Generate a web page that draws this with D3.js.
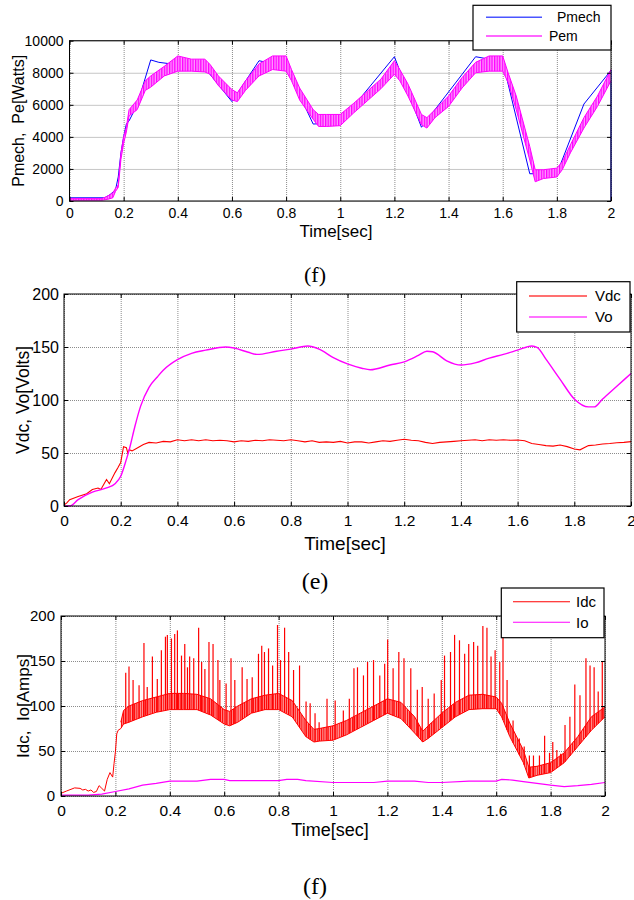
<!DOCTYPE html>
<html><head><meta charset="utf-8">
<script src="https://cdn.jsdelivr.net/npm/d3@7"></script>
<style>
html,body{margin:0;padding:0;background:#fff;}
svg{display:block;}
</style></head><body>
<svg id="c" width="634" height="900"></svg>
<script>
// ---------- shared ticks ----------
const xTicks = [0,0.2,0.4,0.6,0.8,1,1.2,1.4,1.6,1.8,2];
const xTickLabels = ["0","0.2","0.4","0.6","0.8","1","1.2","1.4","1.6","1.8","2"];
const xLabel = "Time[sec]";

// ---------- panel 1 : Pmech / Pem ----------
const p1Ticks = [0,2000,4000,6000,8000,10000];
const p1TickLabels = ["0","2000","4000","6000","8000","10000"];
const pmechT = [0,0.13,0.15,0.17,0.18,0.19,0.2,0.21,0.22,0.25,0.3,0.33,0.4,0.5,0.6,0.7,0.8,0.9,1.0,1.2,1.3,1.5,1.6,1.7,1.8,1.9,2.0,2.0];
const pmechV = [200,200,400,700,1500,3000,4000,4800,5000,6000,8800,8650,8500,8300,6200,8750,8400,4800,4900,9000,4600,9000,8700,1700,1700,6050,8150,0];
const pemT = [0,0.12,0.14,0.16,0.17,0.18,0.19,0.2,0.21,0.22,0.25,0.28,0.3,0.35,0.4,0.45,0.5,0.52,0.55,0.6,0.62,0.65,0.7,0.75,0.8,0.82,0.85,0.9,0.92,0.95,1.0,1.05,1.1,1.15,1.2,1.22,1.25,1.3,1.32,1.35,1.4,1.45,1.5,1.55,1.6,1.62,1.65,1.7,1.72,1.75,1.8,1.82,1.85,1.9,1.95,2.0];
const pemLow = [50,50,100,200,600,850,2600,3600,4300,5300,5700,6900,7100,7800,8100,8100,8050,7900,7200,6300,6200,6900,7800,8200,8100,7500,6300,5100,4650,4650,4700,5500,6250,7000,7900,7500,6550,4750,4550,5200,5900,7050,8000,8100,8100,7400,5700,2550,1200,1400,1500,1950,3000,4550,5900,7500];
const pemHigh = [150,150,300,500,800,1000,3000,4000,4600,5700,6300,7500,7800,8400,9050,8850,8850,8500,7800,6950,6750,7500,8550,9050,9050,8200,7050,5700,5400,5400,5400,6100,6850,7600,8750,8200,7300,5400,5200,5700,6550,7700,8650,9050,9050,8000,6550,3400,1950,1950,2050,2450,3500,5200,6550,8200];

// ---------- panel 2 : Vdc / Vo ----------
const p2Ticks = [0,50,100,150,200];
const p2TickLabels = ["0","50","100","150","200"];
const voT = [0,0.02,0.05,0.1,0.15,0.18,0.2,0.22,0.23,0.25,0.27,0.3,0.33,0.35,0.4,0.45,0.5,0.57,0.6,0.65,0.68,0.75,0.8,0.86,0.9,0.95,1.0,1.05,1.08,1.15,1.2,1.25,1.28,1.3,1.35,1.4,1.45,1.5,1.55,1.6,1.65,1.67,1.7,1.75,1.8,1.85,1.87,1.9,1.95,2.0];
const voV = [0,0,6,13,17,21,28,44,53,75,94,112,122,128,138,144,147,150,149,145,143,146,148,151,148,140,134,130,128.5,133,136,142,146,145.5,137,133,135,139.5,143,147,151,149.5,138.5,119.5,101,93.5,93.5,101,113,125];
const vdcT = [0,0.01,0.02,0.05,0.08,0.1,0.12,0.13,0.15,0.16,0.18,0.19,0.2,0.21,0.22,0.225,0.23,0.24,0.26,0.28,0.3,0.325,0.35,0.375,0.4,0.425,0.45,0.475,0.5,0.525,0.55,0.575,0.6,0.625,0.65,0.675,0.7,0.725,0.75,0.775,0.8,0.825,0.85,0.875,0.9,0.925,0.95,0.975,1.0,1.025,1.05,1.075,1.1,1.125,1.15,1.175,1.2,1.225,1.25,1.275,1.3,1.325,1.35,1.375,1.4,1.425,1.45,1.475,1.5,1.525,1.55,1.575,1.6,1.625,1.65,1.675,1.7,1.725,1.75,1.775,1.8,1.82,1.85,1.875,1.9,1.925,1.95,1.975,2.0];
const vdcV = [1,3,6,9,11.5,15.5,17,15.5,25,21,31.5,36,41,56,55,50,53,52,55,58,60,59.5,61,60.5,62.5,61.5,62.5,61.5,62.5,61.5,62,61.5,60.5,61.5,61,62,61.5,62.5,62,61.5,62.5,61.5,60.5,61.5,60,60.5,60,61,59.5,60.5,60.5,59.5,60.5,61.5,61,62,63,62,61.5,60,59,60,60.5,61,61.5,62,62.5,61.5,62.5,62,62.5,62,62.3,61.5,59,58,57,56.5,57.5,56,53.8,53,57,57.5,58.5,59,59.7,60,60.7];

// ---------- panel 3 : Idc / Io ----------
const p3Ticks = [0,50,100,150,200];
const p3TickLabels = ["0","50","100","150","200"];
const idcT = [0,0.02,0.05,0.07,0.08,0.09,0.1,0.11,0.12,0.13,0.14,0.15,0.16,0.17,0.18,0.19,0.195,0.2,0.205,0.21,0.22];
const idcV = [3,5.5,9,8.5,6.7,7.4,5.5,6.7,4,5,11.5,8.5,5.5,18.5,26,21,36,49,69,73,75];
const idcBandT = [0.22,0.23,0.25,0.3,0.35,0.4,0.45,0.5,0.55,0.6,0.62,0.65,0.7,0.75,0.8,0.85,0.9,0.93,0.95,1.0,1.05,1.1,1.15,1.2,1.25,1.3,1.33,1.35,1.4,1.45,1.5,1.55,1.6,1.62,1.65,1.7,1.72,1.75,1.8,1.85,1.9,1.95,2.0];
const idcBandLow = [75,80,82,88,93,96,96,96,90,80,78,82,92,96,96,88,66,60,61,62,68,76,84,92,86,70,60,64,76,88,96,97,97,88,66,37,20,23,26,37,55,73,88];
const idcBandHigh = [82,95,100,106,110,114,114,113,108,96,94,100,108,112,114,106,84,74,75,78,84,92,100,108,104,88,72,78,92,104,112,113,110,103,81,51,32,33,37,48,66,88,99];
const idcSpikeT = [0.238,0.25,0.265,0.287,0.305,0.317,0.336,0.354,0.369,0.384,0.391,0.406,0.418,0.428,0.443,0.455,0.465,0.473,0.488,0.506,0.517,0.529,0.544,0.559,0.577,0.584,0.607,0.625,0.639,0.666,0.684,0.703,0.726,0.738,0.748,0.763,0.778,0.796,0.807,0.822,0.837,0.855,0.877,0.901,0.916,0.934,0.949,0.978,1.008,1.038,1.06,1.077,1.09,1.112,1.127,1.149,1.172,1.19,1.201,1.221,1.242,1.261,1.286,1.31,1.328,1.35,1.372,1.398,1.41,1.432,1.447,1.465,1.484,1.499,1.517,1.532,1.551,1.566,1.581,1.596,1.613,1.625,1.64,1.662,1.685,1.703,1.722,1.737,1.759,1.778,1.796,1.808,1.823,1.837,1.853,1.871,1.889,1.908,1.93,1.945,1.96,1.975,1.99];
const idcSpikeV = [137,144,129,123,170,121,155,130,162,177,179,175,180,184,156,169,143,155,153,187,149,141,171,169,151,129,125,153,129,143,130,132,158,167,160,164,145,190,151,187,160,140,145,105,103,92,82,108,106,95,108,142,143,134,149,151,134,147,174,142,160,153,142,118,121,108,114,129,156,160,179,173,158,169,171,167,189,187,155,162,149,177,129,84,64,55,45,45,45,67,48,60,51,47,79,88,124,112,153,145,143,116,150];
const ioT = [0,0.1,0.15,0.2,0.25,0.3,0.35,0.4,0.5,0.55,0.6,0.62,0.7,0.8,0.83,0.87,0.9,1.0,1.1,1.15,1.2,1.3,1.35,1.4,1.5,1.6,1.62,1.66,1.7,1.75,1.8,1.85,1.9,1.95,2.0];
const ioV = [1,1,2,5,8,12,14,16.6,16.6,18.5,18.5,17,17,17,18.5,18.5,17,15,15,15,16.6,16.6,15,15,16.6,16.6,18.5,17.7,16,14,12,10.4,11.5,13,15];

// ---------- drawing ----------
const FONT = '"Liberation Sans",Arial,Helvetica,sans-serif';
const SERIF = '"Liberation Serif","Times New Roman",Times,serif';
const svg = d3.select("#c");
svg.append("rect").attr("width",634).attr("height",900).attr("fill","#fff");
const defs = svg.append("defs");
function hatch(id, bg, fg, w, fw) {
  const p = defs.append("pattern").attr("id", id).attr("patternUnits","userSpaceOnUse")
    .attr("width", w).attr("height", 8);
  p.append("rect").attr("width", w).attr("height", 8).attr("fill", bg);
  p.append("rect").attr("width", fw).attr("height", 8).attr("fill", fg);
}
hatch("pemHatch", "#ff99ff", "#ff00ff", 2.6, 1.3);
hatch("idcHatch", "#ff9a9a", "#ff0000", 2.2, 1.0);

let clipN = 0;

function panel(cfg) {
  const g = svg.append("g");
  const x = d3.scaleLinear().domain([0,2]).range([cfg.l, cfg.r]);
  const y = d3.scaleLinear().domain(cfg.yDom).range([cfg.b, cfg.t]);
  const H = cfg.b - cfg.t, W = cfg.r - cfg.l;
  // grid
  g.append("g").attr("transform", `translate(0,${cfg.b})`)
    .call(d3.axisBottom(x).tickValues(xTicks).tickSize(-H).tickFormat(""))
    .call(s => { s.select(".domain").remove();
      s.selectAll("line").attr("stroke","#8c8c8c").attr("stroke-dasharray","1,1"); });
  g.append("g").attr("transform", `translate(${cfg.l},0)`)
    .call(d3.axisLeft(y).tickValues(cfg.yTicks).tickSize(-W).tickFormat(""))
    .call(s => { s.select(".domain").remove();
      s.selectAll("line").attr("stroke","#8c8c8c").attr("stroke-dasharray","1,1"); });
  // clip
  const cid = "clip" + (clipN++);
  defs.append("clipPath").attr("id", cid).append("rect")
    .attr("x", cfg.l).attr("y", cfg.t - 1).attr("width", W + 1).attr("height", H + 2);
  const plot = g.append("g").attr("clip-path", `url(#${cid})`);
  cfg.draw(plot, x, y);
  // box
  g.append("rect").attr("x", cfg.l).attr("y", cfg.t).attr("width", W).attr("height", H)
    .attr("fill","none").attr("stroke","#000").attr("stroke-width",1);
  const styleAxis = (s, fs) => {
    s.select(".domain").remove();
    s.selectAll("line").attr("stroke","#000");
    s.selectAll("text").attr("fill","#000").style("font-family", FONT).style("font-size", fs + "px");
  };
  g.append("g").attr("transform", `translate(0,${cfg.b})`)
    .call(d3.axisBottom(x).tickValues(xTicks).tickFormat((d,i) => xTickLabels[i])
      .tickSizeInner(-4).tickSizeOuter(0).tickPadding(cfg.xPad))
    .call(s => styleAxis(s, cfg.xFs));
  g.append("g").attr("transform", `translate(0,${cfg.t})`)
    .call(d3.axisTop(x).tickValues(xTicks).tickFormat("").tickSizeInner(-4).tickSizeOuter(0))
    .call(s => styleAxis(s, cfg.xFs));
  g.append("g").attr("transform", `translate(${cfg.l},0)`)
    .call(d3.axisLeft(y).tickValues(cfg.yTicks).tickFormat((d,i) => cfg.yTickLabels[i])
      .tickSizeInner(-4).tickSizeOuter(0).tickPadding(cfg.yPad))
    .call(s => styleAxis(s, cfg.yFs));
  g.append("g").attr("transform", `translate(${cfg.r},0)`)
    .call(d3.axisRight(y).tickValues(cfg.yTicks).tickFormat("").tickSizeInner(-4).tickSizeOuter(0))
    .call(s => styleAxis(s, cfg.yFs));
  // axis labels
  g.append("text").attr("x", cfg.xlX).attr("y", cfg.xlY).attr("text-anchor","middle")
    .style("font-family", FONT).style("font-size", cfg.xlFs + "px").text(xLabel);
  g.append("text").attr("transform", `translate(${cfg.ylX},${(cfg.t+cfg.b)/2}) rotate(-90)`)
    .attr("text-anchor","middle").style("font-family", FONT).style("font-size", cfg.ylFs + "px")
    .style("white-space","pre").text(cfg.yLabel);
  // caption
  svg.append("text").attr("x", cfg.capX).attr("y", cfg.capY).attr("text-anchor","middle")
    .style("font-family", SERIF).style("font-size", cfg.capFs + "px").text(cfg.caption);
  // legend
  const L = cfg.legend;
  const lg = svg.append("g");
  lg.append("rect").attr("x", L.x).attr("y", L.y).attr("width", L.w).attr("height", L.h)
    .attr("fill","#fff").attr("stroke","#000").attr("stroke-width",1.2);
  L.items.forEach(it => {
    lg.append("line").attr("x1", L.lx1).attr("x2", L.lx2).attr("y1", it.y).attr("y2", it.y)
      .attr("stroke", it.color).attr("stroke-width", it.sw || 1.4);
    lg.append("text").attr("x", it.tx).attr("y", it.y).attr("dy","0.36em")
      .style("font-family", FONT).style("font-size", L.fs + "px").text(it.name);
  });
}

const lineGen = (x, y) => d3.line().x(d => x(d[0])).y(d => y(d[1]));

// Panel 1
panel({
  l: 69.5, r: 611, t: 40.7, b: 201, yDom: [0,10000],
  yTicks: p1Ticks, yTickLabels: p1TickLabels,
  xFs: 14, yFs: 14, xPad: 7, yPad: 6,
  xlX: 336, xlY: 236.5, xlFs: 17,
  ylX: 24, ylFs: 16, yLabel: "Pmech,  Pe[Watts]",
  capX: 315, capY: 282, capFs: 22, caption: "(f)",
  draw: (g, x, y) => {
    g.append("path").datum(pmechT.map((t,i) => [t, pmechV[i]]))
      .attr("d", lineGen(x,y)).attr("fill","none").attr("stroke","#0000ff").attr("stroke-width",1);
    const band = pemT.map((t,i) => [t, pemLow[i], pemHigh[i]]);
    g.append("path").datum(band)
      .attr("d", d3.area().x(d => x(d[0])).y0(d => y(d[1])).y1(d => y(d[2])))
      .attr("fill","url(#pemHatch)").attr("stroke","none");
    g.append("path").datum(band.map(d => [d[0], d[1]])).attr("d", lineGen(x,y))
      .attr("fill","none").attr("stroke","#ff00ff").attr("stroke-width",1);
    g.append("path").datum(band.map(d => [d[0], d[2]])).attr("d", lineGen(x,y))
      .attr("fill","none").attr("stroke","#ff00ff").attr("stroke-width",1);
  },
  legend: { x: 473, y: 5.3, w: 138, h: 44.7, lx1: 486, lx2: 542, fs: 14,
    items: [ {name: "Pmech", color: "#4a55ff", y: 17.3, tx: 557},
             {name: "Pem", color: "#ff33ff", y: 36, tx: 549} ] }
});

// Panel 2
panel({
  l: 64, r: 631, t: 294, b: 506, yDom: [0,200],
  yTicks: p2Ticks, yTickLabels: p2TickLabels,
  xFs: 15.5, yFs: 16, xPad: 9, yPad: 5,
  xlX: 345, xlY: 550, xlFs: 19,
  ylX: 29, ylFs: 17.5, yLabel: "Vdc, Vo[Volts]",
  capX: 315, capY: 589, capFs: 24, caption: "(e)",
  draw: (g, x, y) => {
    g.append("path").datum(vdcT.map((t,i) => [t, vdcV[i]]))
      .attr("d", lineGen(x,y)).attr("fill","none").attr("stroke","#ff0000").attr("stroke-width",1.1);
    g.append("path").datum(voT.map((t,i) => [t, voV[i]]))
      .attr("d", lineGen(x,y).curve(d3.curveMonotoneX)).attr("fill","none").attr("stroke","#ff00ff").attr("stroke-width",1.4);
  },
  legend: { x: 516.7, y: 281.7, w: 113.3, h: 50.3, lx1: 529, lx2: 587, fs: 15,
    items: [ {name: "Vdc", color: "#ff4040", y: 296, tx: 595},
             {name: "Vo", color: "#ff44ff", y: 317, tx: 595} ] }
});

// Panel 3
panel({
  l: 61, r: 605, t: 616, b: 796, yDom: [0,200],
  yTicks: p3Ticks, yTickLabels: p3TickLabels,
  xFs: 15.5, yFs: 15, xPad: 9, yPad: 6,
  xlX: 330, xlY: 836, xlFs: 18,
  ylX: 29, ylFs: 17, yLabel: "Idc,  Io[Amps]",
  capX: 315, capY: 894, capFs: 24, caption: "(f)",
  draw: (g, x, y) => {
    const lowAt = d3.scaleLinear().domain(idcBandT).range(idcBandLow);
    const band = idcBandT.map((t,i) => [t, idcBandLow[i], idcBandHigh[i]]);
    g.append("path").datum(idcT.map((t,i) => [t, idcV[i]]))
      .attr("d", lineGen(x,y)).attr("fill","none").attr("stroke","#ff0000").attr("stroke-width",1);
    g.append("path").datum(band)
      .attr("d", d3.area().x(d => x(d[0])).y0(d => y(d[1])).y1(d => y(d[2])))
      .attr("fill","url(#idcHatch)").attr("stroke","none");
    g.append("path").datum(band.map(d => [d[0], d[1]])).attr("d", lineGen(x,y))
      .attr("fill","none").attr("stroke","#ff0000").attr("stroke-width",1);
    g.append("path").datum(band.map(d => [d[0], d[2]])).attr("d", lineGen(x,y))
      .attr("fill","none").attr("stroke","#ff0000").attr("stroke-width",1);
    g.selectAll("line.spike").data(idcSpikeT.map((t,i) => [t, idcSpikeV[i]])).join("line")
      .attr("class","spike")
      .attr("x1", d => x(d[0])).attr("x2", d => x(d[0]))
      .attr("y1", d => y(lowAt(d[0]))).attr("y2", d => y(d[1]))
      .attr("stroke","#ff0000").attr("stroke-width",1.2);
    g.append("path").datum(ioT.map((t,i) => [t, ioV[i]]))
      .attr("d", lineGen(x,y)).attr("fill","none").attr("stroke","#ff00ff").attr("stroke-width",1.2);
  },
  legend: { x: 501.3, y: 588, w: 102.7, h: 49.7, lx1: 513, lx2: 570, fs: 15,
    items: [ {name: "Idc", color: "#ff0000", y: 601.7, tx: 576, sw: 1.1},
             {name: "Io", color: "#ff00ff", y: 622.3, tx: 576, sw: 1.1} ] }
});
</script>
</body></html>
